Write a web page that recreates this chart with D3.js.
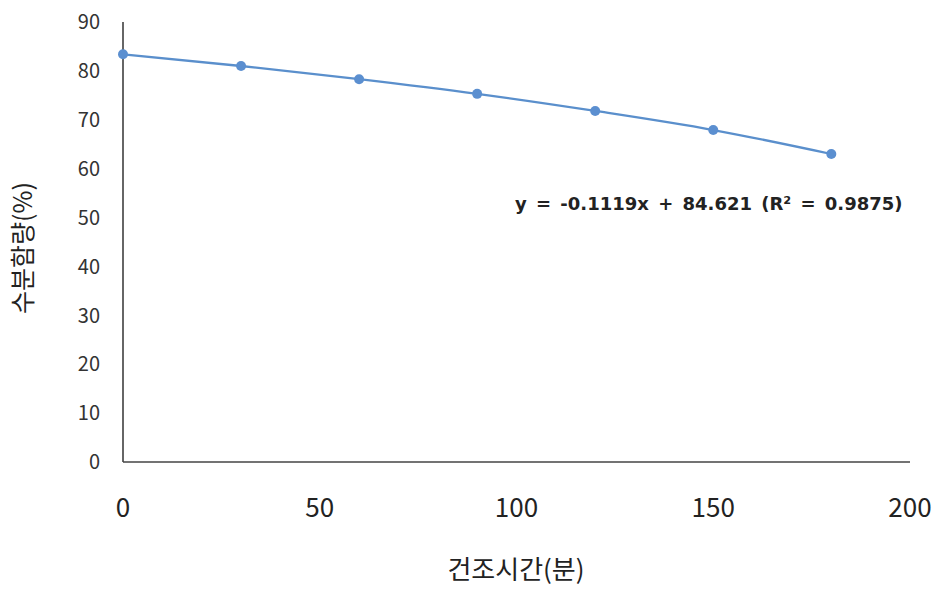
<!DOCTYPE html>
<html><head><meta charset="utf-8">
<script src="https://cdn.jsdelivr.net/npm/d3@7"></script>
<style>body{margin:0;background:#fff}svg{display:block}</style>
</head><body>
<script>
const times = [0, 30, 60, 90, 120, 150, 180];
const moisture = [83.4, 81.0, 78.3, 75.3, 71.8, 67.9, 63.0];
const xTicks = [0, 50, 100, 150, 200];
const yTicks = [0, 10, 20, 30, 40, 50, 60, 70, 80, 90];
const xTitle = "건조시간(분)";
const yTitle = "수분함량(%)";
const equation = "y = -0.1119x + 84.621 (R² = 0.9875)";

const W = 936, H = 589;
const svg = d3.select("body").append("svg").attr("width", W).attr("height", H);
const x = d3.scaleLinear().domain([0, 200]).range([123, 910]);
const y = d3.scaleLinear().domain([0, 90]).range([462, 22]);
const font = "'Noto Sans CJK KR', 'Noto Sans', sans-serif";

svg.append("line").attr("x1", x(0)).attr("x2", x(0)).attr("y1", y(90)).attr("y2", y(0))
  .attr("stroke", "#333").attr("stroke-width", 1.5);
svg.append("line").attr("x1", x(0)).attr("x2", x(200)).attr("y1", y(0)).attr("y2", y(0))
  .attr("stroke", "#444").attr("stroke-width", 1.5);

svg.selectAll(".yt").data(yTicks).join("text")
  .attr("x", 100).attr("y", d => y(d)).attr("dy", "0.36em")
  .attr("text-anchor", "end").attr("font-family", font).attr("font-size", 20)
  .attr("fill", "#333").text(d => d);

svg.selectAll(".xt").data(xTicks).join("text")
  .attr("x", d => x(d)).attr("y", 508).attr("dy", "0.36em")
  .attr("text-anchor", "middle").attr("font-family", font).attr("font-size", 26)
  .attr("fill", "#222").text(d => d);

svg.append("text").attr("x", 516).attr("y", 570).attr("dy", "0.36em")
  .attr("text-anchor", "middle").attr("font-family", font).attr("font-size", 26)
  .attr("fill", "#222").text(xTitle);

svg.append("text").attr("transform", "translate(23,248) rotate(-90)").attr("dy", "0.36em")
  .attr("text-anchor", "middle").attr("font-family", font).attr("font-size", 25)
  .attr("fill", "#222").text(yTitle);

const data = times.map((t, i) => ({t, v: moisture[i]}));
svg.append("path").datum(data)
  .attr("d", d3.line().x(d => x(d.t)).y(d => y(d.v)).curve(d3.curveMonotoneX))
  .attr("fill", "none").attr("stroke", "#5a8fcc").attr("stroke-width", 2.3);
svg.selectAll(".pt").data(data).join("circle")
  .attr("cx", d => x(d.t)).attr("cy", d => y(d.v)).attr("r", 5)
  .attr("fill", "#5b8fd0");

svg.append("text").attr("x", 515).attr("y", 204).attr("dy", "0.36em")
  .attr("font-family", "'DejaVu Sans', sans-serif").attr("font-size", 18)
  .attr("font-weight", "bold").attr("word-spacing", 3)
  .attr("fill", "#222").text(equation);
</script>
</body></html>
